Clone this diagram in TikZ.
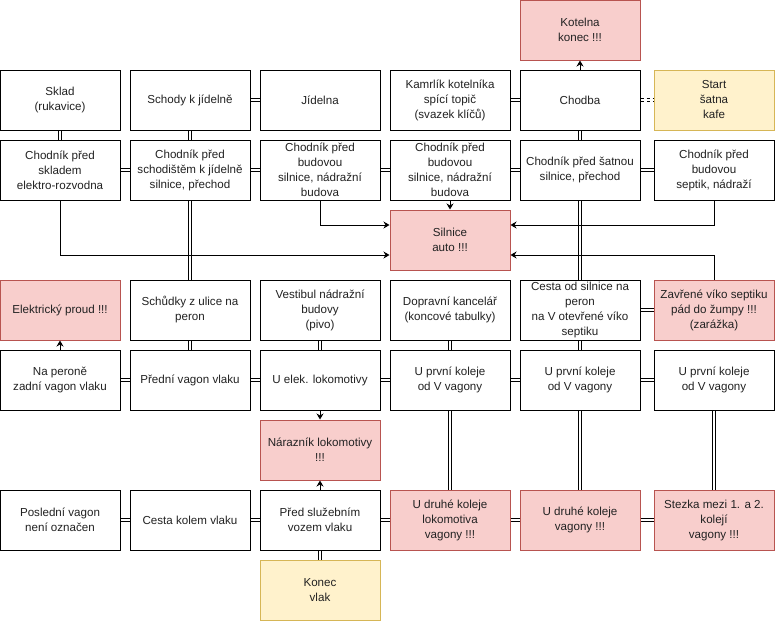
\documentclass[tikz,border=0pt]{standalone}
\usepackage{fontspec}
\setmainfont{Liberation Sans}
\usetikzlibrary{arrows.meta}
\definecolor{redfill}{HTML}{F8CECC}
\definecolor{redline}{HTML}{B85450}
\definecolor{yelfill}{HTML}{FFF2CC}
\definecolor{yelline}{HTML}{D6B656}
\definecolor{txt}{HTML}{222222}

\begin{document}
\begin{tikzpicture}[x=1pt, y=-1pt,
    box/.style={draw=black, line width=1pt, fill=white, minimum width=120pt, minimum height=60pt,
        inner sep=0pt, align=center, text=txt, font=\fontsize{11.6}{15}\selectfont},
    danger/.style={box, draw=redline, fill=redfill},
    goal/.style={box, draw=yelline, fill=yelfill},
    pass/.style={draw=black, line width=1pt, double=white, double distance=2pt},
    arr/.style={draw=black, line width=1pt, -{Stealth[length=6pt, width=7pt]}}]

    \useasboundingbox (0,0) rectangle (775,621);

    % 1. Top row
    \node[danger] (kotelna) at (580,30) {Kotelna\\konec !!!};
    \node[box] (sklad) at (60,100) {Sklad\\(rukavice)};
    \node[box] (schody) at (190,100) {Schody k jídelně};
    \node[box] (jidelna) at (320,100) {Jídelna};
    \node[box] (kamrlik) at (450,100) {Kamrlík kotelníka\\spící topič\\(svazek klíčů)};
    \node[box] (chodba) at (580,100) {Chodba};
    \node[goal] (start) at (714,100) {Start\\šatna\\kafe};

    % 2. Sidewalks
    \node[box] (chsklad) at (60,170) {Chodník před\\skladem\\elektro-rozvodna};
    \node[box] (chschody) at (190,170) {Chodník před\\schodištěm k jídelně\\silnice, přechod};
    \node[box] (chbudA) at (320,170) {Chodník před\\budovou\\silnice, nádražní\\budova};
    \node[box] (chbudB) at (450,170) {Chodník před\\budovou\\silnice, nádražní\\budova};
    \node[box] (chsatna) at (580,170) {Chodník před šatnou\\silnice, přechod};
    \node[box] (chseptik) at (714,170) {Chodník před\\budovou\\septik, nádraží};

    % 3. Road
    \node[danger] (silnice) at (450,240) {Silnice\\auto !!!};

    % 4. Platform access
    \node[danger] (proud) at (60,310) {Elektrický proud !!!};
    \node[box] (schudky) at (190,310) {Schůdky z ulice na\\peron};
    \node[box] (vestibul) at (320,310) {Vestibul nádražní\\budovy\\(pivo)};
    \node[box] (kancelar) at (450,310) {Dopravní kancelář\\(koncové tabulky)};
    \node[box] (cesta) at (580,310) {Cesta od silnice na\\peron\\na V otevřené víko\\septiku};
    \node[danger] (viko) at (714,310) {Zavřené víko septiku\\pád do žumpy !!!\\(zarážka)};

    % 5. First track
    \node[box] (zadni) at (60,380) {Na peroně\\zadní vagon vlaku};
    \node[box] (predni) at (190,380) {Přední vagon vlaku};
    \node[box] (lokom) at (320,380) {U elek. lokomotivy};
    \node[box] (kolejA) at (450,380) {U první koleje\\od V vagony};
    \node[box] (kolejB) at (580,380) {U první koleje\\od V vagony};
    \node[box] (kolejC) at (714,380) {U první koleje\\od V vagony};

    \node[danger] (naraznik) at (320,450) {Nárazník lokomotivy\\!!!};

    % 6. Second track
    \node[box] (posledni) at (60,520) {Poslední vagon\\není označen};
    \node[box] (kolem) at (190,520) {Cesta kolem vlaku};
    \node[box] (sluzebni) at (320,520) {Před služebním\\vozem vlaku};
    \node[danger] (druhaA) at (450,520) {U druhé koleje\\lokomotiva\\vagony !!!};
    \node[danger] (druhaB) at (580,520) {U druhé koleje\\vagony !!!};
    \node[danger] (stezka) at (714,520) {Stezka mezi 1. a 2.\\kolejí\\vagony !!!};

    \node[goal] (konec) at (320,590) {Konec\\vlak};

    % 7. Passages (double lines)
    \draw[pass] (schody) -- (jidelna);
    \draw[pass] (kamrlik) -- (chodba);
    \draw[pass, dashed] (chodba) -- (start);
    \draw[pass] (sklad) -- (chsklad);
    \draw[pass] (schody) -- (chschody);
    \draw[pass] (chodba) -- (chsatna);
    \draw[pass] (chsklad) -- (chschody);
    \draw[pass] (chschody) -- (chbudA);
    \draw[pass] (chbudA) -- (chbudB);
    \draw[pass] (chbudB) -- (chsatna);
    \draw[pass] (chsatna) -- (chseptik);
    \draw[pass] (chschody) -- (schudky);
    \draw[pass] (chsatna) -- (cesta);
    \draw[pass] (cesta) -- (viko);
    \draw[pass] (schudky) -- (predni);
    \draw[pass] (vestibul) -- (lokom);
    \draw[pass] (kancelar) -- (kolejA);
    \draw[pass] (cesta) -- (kolejB);
    \draw[pass] (zadni) -- (predni);
    \draw[pass] (predni) -- (lokom);
    \draw[pass] (lokom) -- (kolejA);
    \draw[pass] (kolejA) -- (kolejB);
    \draw[pass] (kolejB) -- (kolejC);
    \draw[pass] (kolejA) -- (druhaA);
    \draw[pass] (kolejB) -- (druhaB);
    \draw[pass] (kolejC) -- (stezka);
    \draw[pass] (posledni) -- (kolem);
    \draw[pass] (kolem) -- (sluzebni);
    \draw[pass] (sluzebni) -- (druhaA);
    \draw[pass] (druhaA) -- (druhaB);
    \draw[pass] (druhaB) -- (stezka);
    \draw[pass] (sluzebni) -- (konec);

    % 8. Dangers (arrows)
    \draw[arr] (chodba) -- (kotelna);
    \draw[arr] (chbudB) -- (silnice);
    \draw[arr] (chsklad.south) |- ([yshift=-15pt]silnice.west);
    \draw[arr] (chbudA.south) |- ([yshift=15pt]silnice.west);
    \draw[arr] (chseptik.south) |- ([yshift=15pt]silnice.east);
    \draw[arr] (viko.north) |- ([yshift=-15pt]silnice.east);
    \draw[arr] (zadni) -- (proud);
    \draw[arr] (lokom) -- (naraznik);
    \draw[arr] (sluzebni) -- (naraznik);

\end{tikzpicture}
\end{document}
